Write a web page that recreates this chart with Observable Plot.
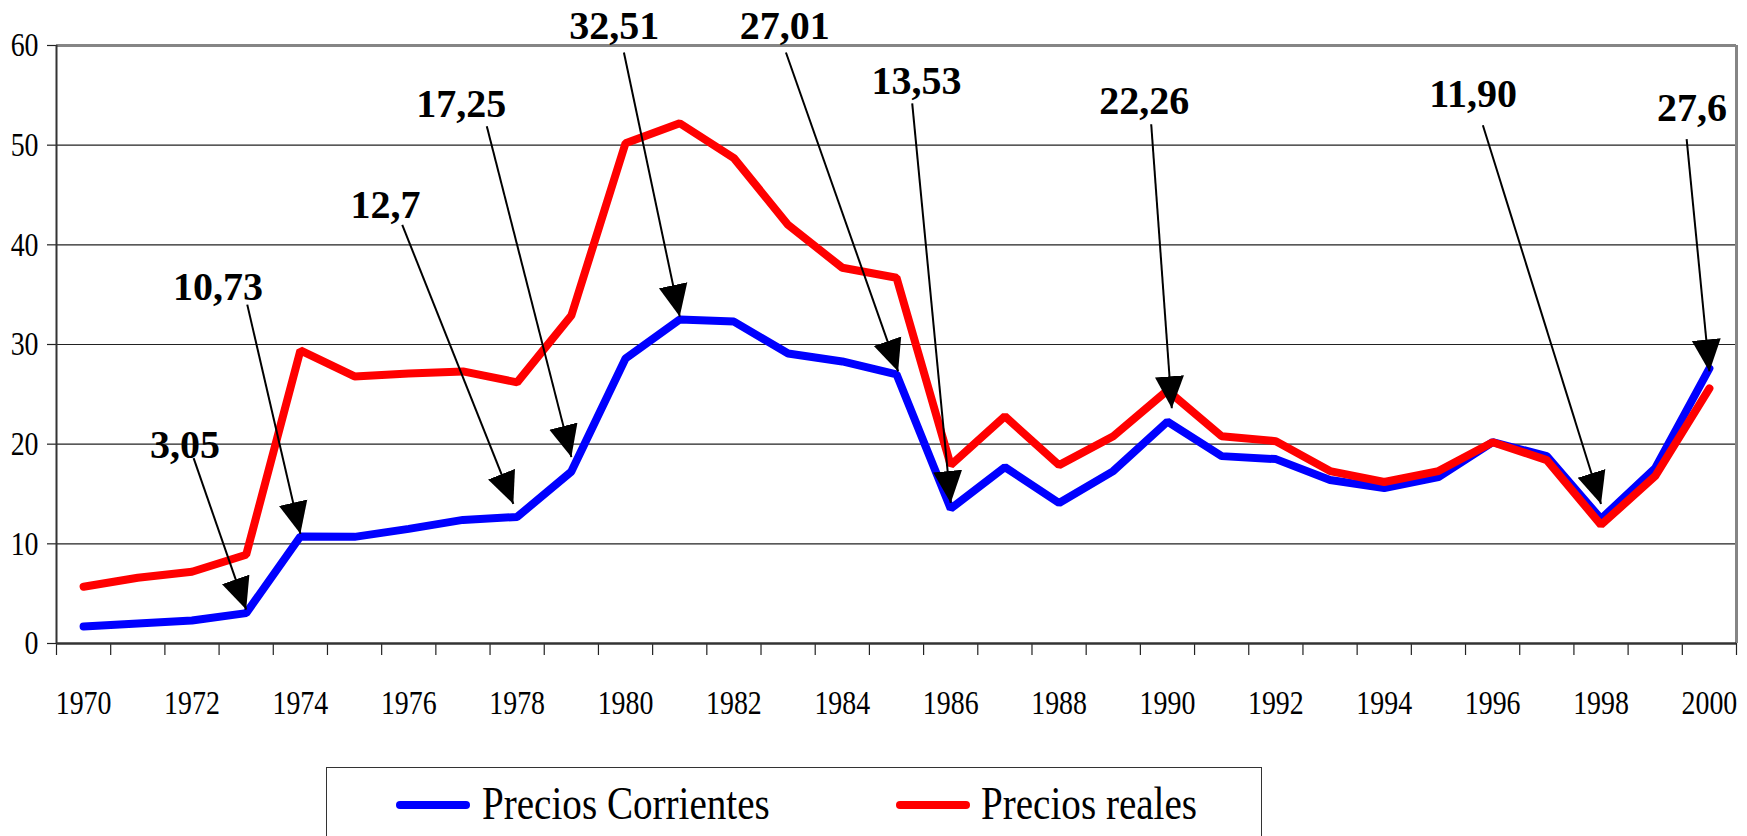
<!DOCTYPE html>
<html>
<head>
<meta charset="utf-8">
<script src="https://cdn.jsdelivr.net/npm/d3@7"></script>
<script src="https://cdn.jsdelivr.net/npm/@observablehq/plot@0.6"></script>
<style>
  body { margin: 0; background: #fff; width: 1747px; height: 836px; overflow: hidden; position: relative; font-family: "Liberation Serif", serif; }
  #chart { position: absolute; left: 0; top: 0; }
  #chart svg text { font-family: "Liberation Serif", serif; }
  #legend { position: absolute; left: 326px; top: 767px; width: 936px; height: 100px; border: 1.5px solid #333; box-sizing: border-box; background: #fff; }
  .sw { position: absolute; height: 8px; border-radius: 4px; width: 74px; top: 33px; }
  .lt { position: absolute; top: 13px; font-size: 46px; line-height: 46px; white-space: nowrap; transform: scaleX(0.85); transform-origin: left center; color: #000; }
</style>
</head>
<body>
<div id="chart"></div>
<div id="legend"></div>
<script>
// ---- data ----
const years = [1970,1971,1972,1973,1974,1975,1976,1977,1978,1979,1980,1981,1982,1983,1984,1985,1986,1987,1988,1989,1990,1991,1992,1993,1994,1995,1996,1997,1998,1999,2000];
const preciosCorrientes = [1.7,2.0,2.3,3.05,10.73,10.7,11.5,12.4,12.7,17.25,28.6,32.51,32.3,29.1,28.3,27.01,13.53,17.7,14.1,17.3,22.26,18.8,18.5,16.4,15.6,16.7,20.2,18.8,12.5,17.6,27.6];
const preciosReales = [5.7,6.6,7.2,8.9,29.4,26.8,27.1,27.3,26.2,32.9,50.2,52.2,48.7,42.0,37.7,36.7,17.9,22.8,17.9,20.8,25.4,20.8,20.3,17.3,16.2,17.3,20.2,18.4,11.9,16.8,25.6];
const seriesNames = ["Precios Corrientes", "Precios reales"];
const seriesColors = ["#0000ff", "#ff0000"];
const yTicks = [0,10,20,30,40,50,60];
const xTickLabels = [1970,1972,1974,1976,1978,1980,1982,1984,1986,1988,1990,1992,1994,1996,1998,2000];

// annotations (positions in data units: year, value)
const annLabels = ["3,05","10,73","12,7","17,25","32,51","27,01","13,53","22,26","11,90","27,6"];
const annLabelYear = [1971.87,1972.48,1975.57,1976.97,1979.79,1982.94,1985.37,1989.57,1995.64,1999.68];
const annLabelValue = [19.9,35.8,44.0,54.1,61.9,61.9,56.4,54.4,55.1,53.7];
const annTailYear = [1972.03,1973.02,1975.88,1977.44,1979.97,1982.96,1985.29,1989.7,1995.82,1999.58];
const annTailValue = [18.6,34.0,42.0,51.9,59.3,59.3,54.2,52.1,52.0,50.6];
const annHeadYear = [1973.0,1974.0,1977.93,1979.0,1981.0,1985.03,1986.0,1990.08,1998.0,2000.0];
const annHeadValue = [3.4,11.0,14.0,18.7,32.8,27.3,14.1,23.6,14.0,27.3];

// ---- tables ----
const table = years.map((y, i) => ({year: y, corr: preciosCorrientes[i], real: preciosReales[i]}));
const ann = annLabels.map((t, i) => ({
  label: t, lx: annLabelYear[i], ly: annLabelValue[i],
  tx: annTailYear[i], ty: annTailValue[i], hx: annHeadYear[i], hy: annHeadValue[i]
}));
const yearEdges = years.map(y => y - 0.5).concat([years[years.length - 1] + 0.5]);
const serif = '"Liberation Serif", serif';

const chart = Plot.plot({
  width: 1747,
  height: 760,
  marginLeft: 56,
  marginRight: 11,
  marginTop: 45,
  marginBottom: 117,
  x: {domain: [years[0] - 0.5, years[years.length - 1] + 0.5]},
  y: {domain: [0, 60]},
  style: {fontFamily: serif, background: "#fff", color: "#000", overflow: "visible"},
  marks: [
    Plot.ruleY(yTicks.filter(v => v > 0 && v < 60), {stroke: "#222", strokeWidth: 1.2}),
    Plot.ruleY([60], {stroke: "#858585", strokeWidth: 3}),
    Plot.ruleX([years[years.length - 1] + 0.5], {stroke: "#858585", strokeWidth: 3}),
    Plot.axisY(yTicks, {tickSize: 9, tickPadding: 9, fontSize: 34, fontFamily: serif, stroke: "#222", strokeWidth: 1.2, label: null, tickFormat: d => String(d)}),
    Plot.axisX(yearEdges, {tickSize: 12, tickPadding: 0, stroke: "#222", strokeWidth: 1.2, label: null, tickFormat: () => ""}),
    Plot.axisX(xTickLabels, {tickSize: 0, tickPadding: 46, fontSize: 34, fontFamily: serif, label: null, tickFormat: d => String(d)}),
    Plot.ruleX([years[0] - 0.5], {stroke: "#333", strokeWidth: 2}),
    Plot.ruleY([0], {stroke: "#333", strokeWidth: 2.5}),
    Plot.line(table, {x: "year", y: "corr", stroke: seriesColors[0], strokeWidth: 8, strokeLinejoin: "miter", strokeLinecap: "round"}),
    Plot.line(table, {x: "year", y: "real", stroke: seriesColors[1], strokeWidth: 8, strokeLinejoin: "miter", strokeLinecap: "round"}),
    Plot.link(ann, {x1: "tx", y1: "ty", x2: "hx", y2: "hy", stroke: "#000", strokeWidth: 2}),
    Plot.text(ann, {x: "lx", y: "ly", text: "label", fontSize: 40, fontWeight: "bold", fontFamily: serif, fill: "#000"})
  ]
});

document.getElementById("chart").appendChild(chart);

// condensed look for tick labels
chart.querySelectorAll('g[aria-label$="tick label"] text').forEach(t => {
  const tr = t.getAttribute("transform");
  if (tr) t.setAttribute("transform", tr + " scale(0.82,1)");
});

// filled arrowheads on annotation links
const ns = "http://www.w3.org/2000/svg";
const defs = document.createElementNS(ns, "defs");
const marker = document.createElementNS(ns, "marker");
marker.setAttribute("id", "arrowHead");
marker.setAttribute("markerUnits", "userSpaceOnUse");
marker.setAttribute("viewBox", "0 -15 32 30");
marker.setAttribute("refX", "32");
marker.setAttribute("refY", "0");
marker.setAttribute("markerWidth", "32");
marker.setAttribute("markerHeight", "30");
marker.setAttribute("orient", "auto");
const mp = document.createElementNS(ns, "path");
mp.setAttribute("d", "M0,-14.5L32,0L0,14.5Z");
mp.setAttribute("fill", "#000");
marker.appendChild(mp);
defs.appendChild(marker);
chart.insertBefore(defs, chart.firstChild);
chart.querySelectorAll('g[aria-label="link"] path').forEach(p => p.setAttribute("marker-end", "url(#arrowHead)"));

// legend
const legend = document.getElementById("legend");
const swLeft = [69, 569];
const txtLeft = [155, 654];
seriesNames.forEach((name, i) => {
  const sw = document.createElement("div");
  sw.className = "sw";
  sw.style.left = swLeft[i] + "px";
  sw.style.background = seriesColors[i];
  legend.appendChild(sw);
  const tx = document.createElement("div");
  tx.className = "lt";
  tx.style.left = txtLeft[i] + "px";
  tx.textContent = name;
  legend.appendChild(tx);
});
</script>
</body>
</html>
